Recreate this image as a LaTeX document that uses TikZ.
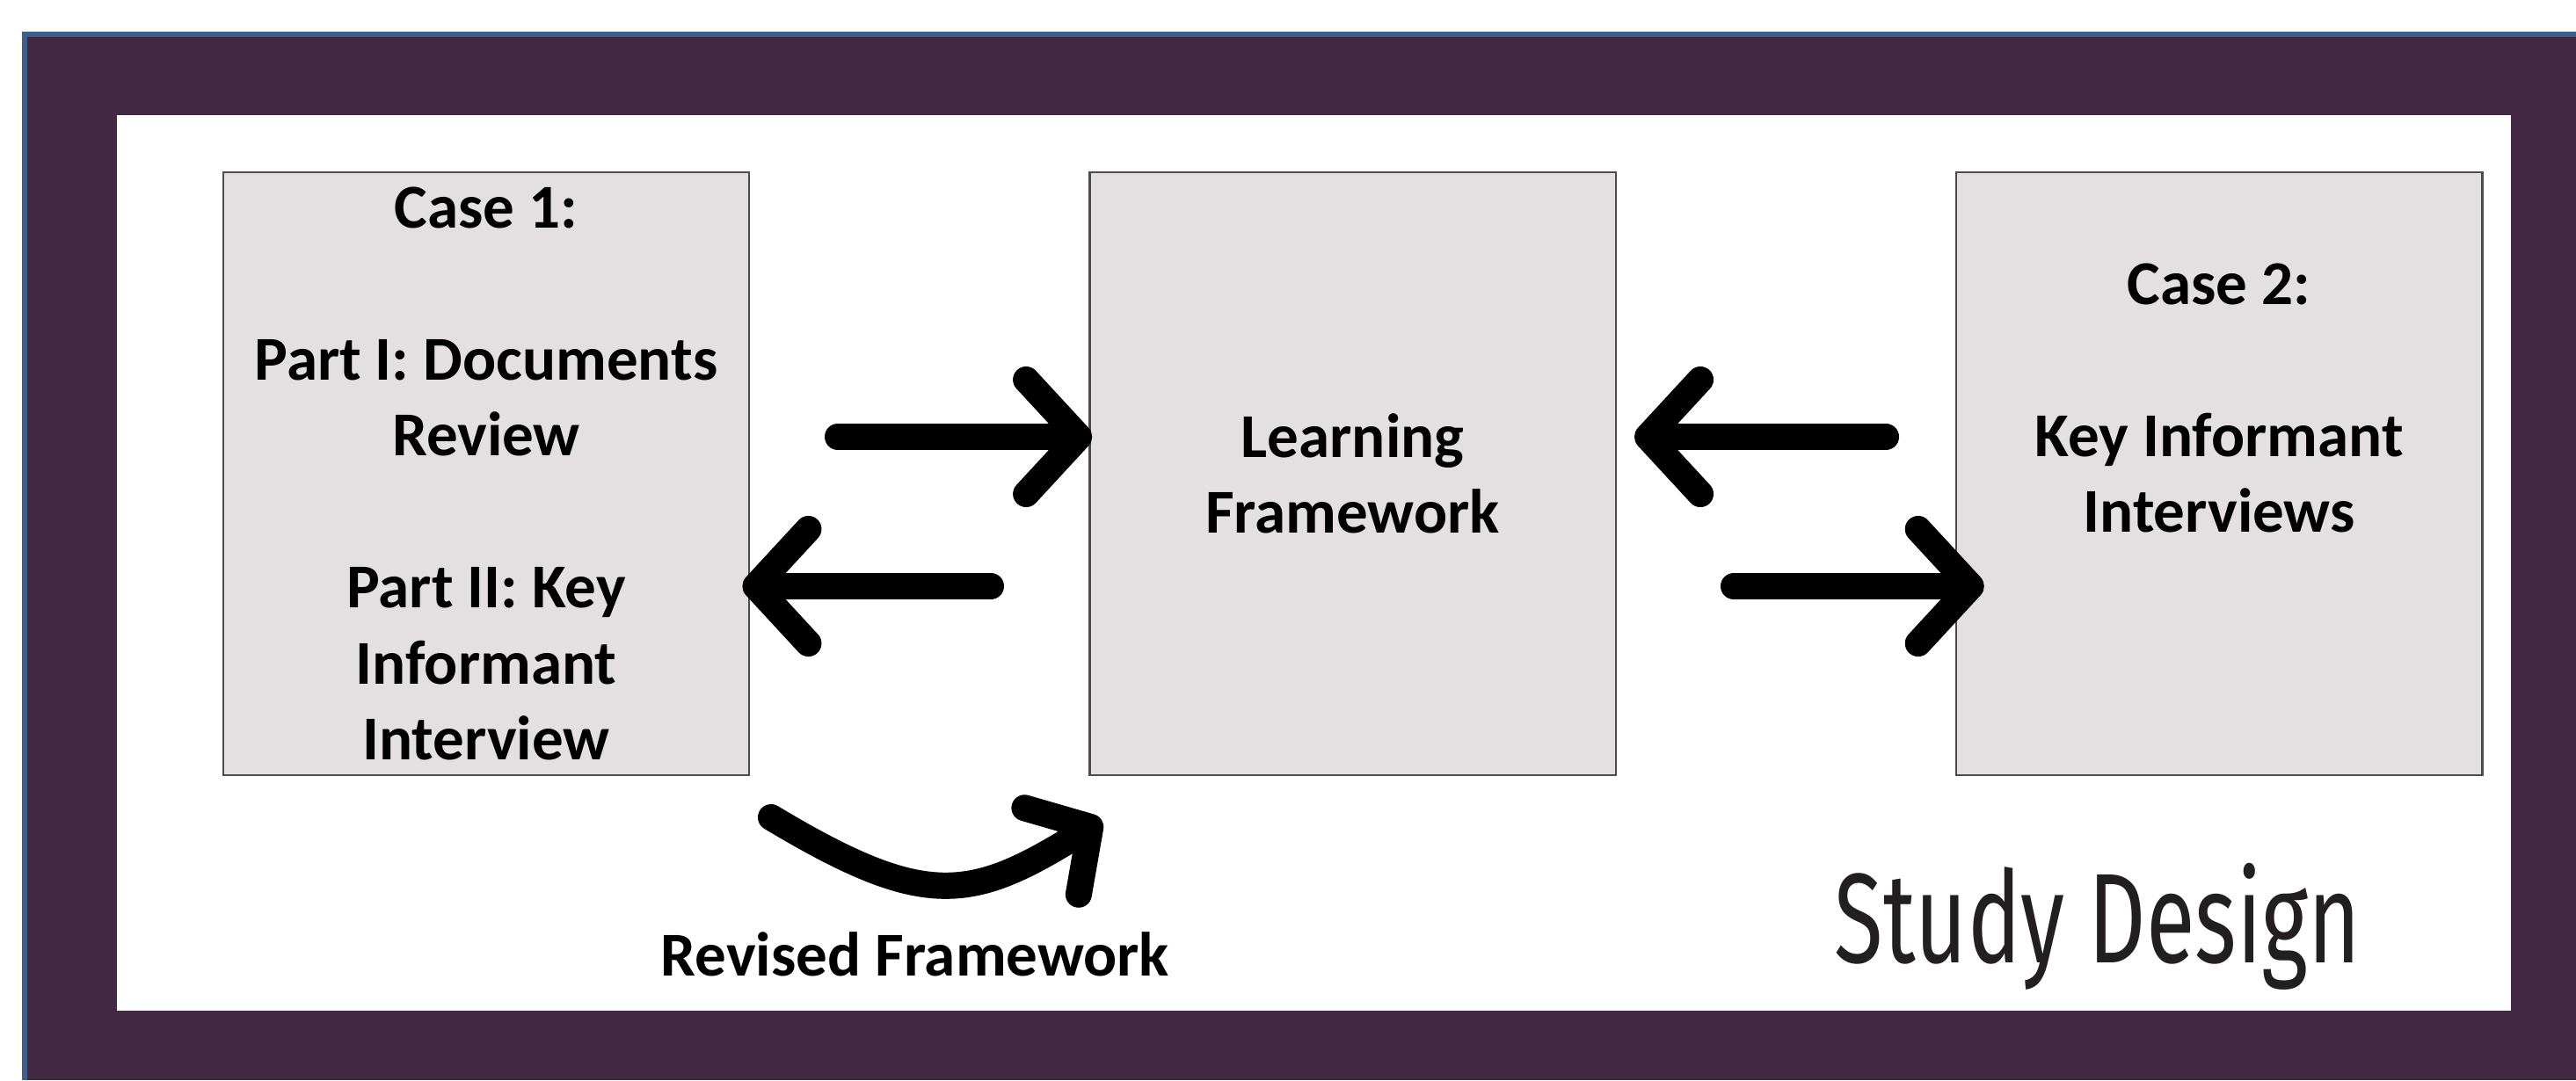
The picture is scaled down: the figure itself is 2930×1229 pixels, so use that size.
\documentclass[tikz,border=0pt]{standalone}
\usepackage{fontspec}
\setmainfont{Carlito}
\newfontfamily\titlefont[FakeStretch=0.7]{Fira Sans}
\usetikzlibrary{positioning,arrows.meta}

\definecolor{framepurple}{RGB}{67,40,67}
\definecolor{frameblue}{RGB}{60,95,140}
\definecolor{boxgray}{RGB}{228,224,226}
\definecolor{titleblack}{RGB}{35,31,32}

\tikzset{
  stage/.style={draw=black!70, line width=0.7pt, fill=boxgray,
    minimum width=5.98cm, minimum height=6.86cm, inner sep=0pt,
    align=center, font=\bfseries\fontsize{20.2}{24.6}\selectfont},
  note/.style={inner sep=0pt, font=\bfseries\fontsize{20.2}{24.6}\selectfont},
  flow/.style={line width=0.3cm, line cap=round,
    -{Straight Barb[round, length=0.6cm, width=1.3cm]}},
  bentflow/.style={flow, -{Straight Barb[round, length=0.52cm, width=1.16cm]}},
}

\begin{document}
\begin{tikzpicture}[x=0.01cm, y=-0.01cm, node distance=9.85cm, on grid]
  \useasboundingbox (0,0) rectangle (2930,1229);
  % purple frame with thin blue rim and white panel
  \fill[frameblue] (25,36) rectangle (2930,1229);
  \fill[framepurple] (31,42) rectangle (2930,1229);
  \fill[white] (133,131) rectangle (2856,1150);

  \node[stage] (case1) at (553,539)
    {Case 1:\\ \mbox{}\\ Part I: Documents\\ Review\\ \mbox{}\\ Part II: Key\\ Informant\\ Interview};
  \node[stage] (frame) [right=of case1] {Learning\\ Framework};
  \node[stage] (case2) [right=of frame]
    {Case 2:\\ \mbox{}\\ Key Informant\\ Interviews\\ \mbox{}\\ \mbox{}};

  % arrow tails
  \coordinate (a1) at (953,497);
  \coordinate (a2) at (1127,667);
  \coordinate (a3) at (2145,497);
  \coordinate (a4) at (1972,667);
  \coordinate (r1) at (877,930);
  \coordinate (r2) at (1253,933);

  \draw[flow, shorten >=-0.04cm] (a1) -- (a1 -| frame.west);
  \draw[flow, shorten >=-0.09cm] (a2) -- (a2 -| case1.east);
  \draw[flow, shorten >=0.2cm]   (a3) -- (a3 -| frame.east);
  \draw[flow, shorten >=-0.33cm] (a4) -- (a4 -| case2.west);
  \draw[bentflow] (r1) .. controls (1052,1035) and (1104,1026) .. (r2);

  \node[note, anchor=base] (revised) at (1041,1110) {Revised Framework};
  \node[inner sep=0pt, anchor=base west, text=titleblack,
    font=\titlefont\fontsize{41.3}{48}\selectfont] (title) at (2086,1095) {Study Design};
\end{tikzpicture}
\end{document}
